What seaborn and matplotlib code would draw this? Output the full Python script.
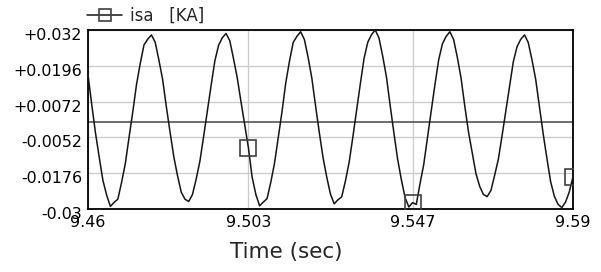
"""
plot.py
-------
Stator current isa [KA] over a short simulation window (9.46 s - 9.59 s),
drawn in the style of a PSCAD/EMTDC trace plot.
"""

import numpy as np
import matplotlib
matplotlib.use("Agg")  # Non-interactive backend for saving figures
import matplotlib.pyplot as plt
import matplotlib.transforms as mtransforms
import seaborn as sns

# ── Data (1 ms spacing) ───────────────────────────────────────
t_start = 9.46
t_end = 9.59

isa_values = [
    0.0165, 0.0062, -0.0036, -0.0120, -0.0201, -0.0252, -0.0291, -0.0277,
    -0.0266, -0.0208, -0.0143, -0.0052, 0.0036, 0.0131, 0.0204, 0.0268,
    0.0288, 0.0303, 0.0278, 0.0216, 0.0149, 0.0054, -0.0034, -0.0119,
    -0.0185, -0.0242, -0.0266, -0.0274, -0.0250, -0.0196, -0.0134, -0.0048,
    0.0041, 0.0128, 0.0213, 0.0267, 0.0293, 0.0308, 0.0283, 0.0221,
    0.0155, 0.0072, -0.0008, -0.0088, -0.0190, -0.0250, -0.0289, -0.0276,
    -0.0264, -0.0207, -0.0141, -0.0051, 0.0037, 0.0136, 0.0212, 0.0277,
    0.0298, 0.0314, 0.0287, 0.0225, 0.0153, 0.0057, -0.0035, -0.0122,
    -0.0190, -0.0249, -0.0282, -0.0268, -0.0258, -0.0203, -0.0138, -0.0050,
    0.0042, 0.0134, 0.0222, 0.0278, 0.0304, 0.0320, 0.0292, 0.0229,
    0.0157, 0.0058, -0.0037, -0.0128, -0.0199, -0.0261, -0.0293, -0.0278,
    -0.0284, -0.0212, -0.0145, -0.0052, 0.0040, 0.0131, 0.0217, 0.0272,
    0.0298, 0.0314, 0.0287, 0.0225, 0.0153, 0.0056, -0.0034, -0.0106,
    -0.0178, -0.0222, -0.0250, -0.0257, -0.0236, -0.0183, -0.0127, -0.0045,
    0.0040, 0.0126, 0.0210, 0.0262, 0.0288, 0.0303, 0.0277, 0.0217,
    0.0149, 0.0054, -0.0039, -0.0124, -0.0205, -0.0256, -0.0284, -0.0295,
    -0.0276, -0.0241, -0.0188,
]

# Sample indices that carry the square trace marker
marker_idx = [43, 87, 130]

x_ticks = [9.46, 9.503, 9.547, 9.59]
x_tick_labels = ["9.46", "9.503", "9.547", "9.59"]
y_ticks = [0.032, 0.0196, 0.0072, -0.0052, -0.0176, -0.03]
y_tick_labels = ["+0.032", "+0.0196", "+0.0072", "-0.0052", "-0.0176", "-0.03"]

time = np.linspace(t_start, t_end, len(isa_values))

# ── Style ─────────────────────────────────────────────────────
sns.set_style("white")
plt.rcParams["font.family"] = ["DejaVu Sans"]

fig = plt.figure(figsize=(6.01, 2.72), dpi=100)
ax = fig.add_axes([88 / 601, 1 - 209 / 272, 485 / 601, 179 / 272])

# ── Trace ─────────────────────────────────────────────────────
sns.lineplot(
    x=time,
    y=isa_values,
    ax=ax,
    color="#151515",
    linewidth=1.1,
    marker="s",
    markevery=marker_idx,
    markersize=11,
    markerfacecolor="none",
    markeredgecolor="#404040",
    markeredgewidth=1.2,
    label="isa   [KA]",
    zorder=3,
)

# zero reference line
ax.axhline(0, color="#555555", linewidth=1.2, zorder=2)

# ── Axes, ticks, grid ─────────────────────────────────────────
ax.set_xlim(t_start, t_end)
ax.set_ylim(-0.03, 0.032)
ax.set_xticks(x_ticks)
ax.set_xticklabels(x_tick_labels)
ax.set_yticks(y_ticks)
ax.set_yticklabels(y_tick_labels)

ax.grid(True, color="#cccccc", linewidth=1.0, zorder=1)
ax.tick_params(
    axis="both", direction="in", length=8, width=1.2, color="#404040",
    labelsize=11.4, labelcolor="black", pad=4.3,
)

for spine in ax.spines.values():
    spine.set_color("black")
    spine.set_linewidth(1.3)
    spine.set_visible(True)

# y labels sit a little below their grid line in the reference
offset = mtransforms.ScaledTranslation(0, -4 / 100, fig.dpi_scale_trans)
for lbl in ax.get_yticklabels():
    lbl.set_transform(lbl.get_transform() + offset)

ax.set_xlabel("Time (sec)", fontsize=15.5)
ax.xaxis.set_label_coords((286 - 88) / 485, (209 - 242) / 179)
ax.set_ylabel("")

# ── Legend above the plot ─────────────────────────────────────
ax.legend(
    loc="center left",
    bbox_to_anchor=(-0.002, (209 - 16) / 179),
    frameon=False,
    fontsize=12,
    handlelength=2.1,
    handletextpad=0.45,
    borderpad=0,
    borderaxespad=0,
    markerscale=0.85,
)

fig.savefig("out.png", dpi=100)
plt.close(fig)
